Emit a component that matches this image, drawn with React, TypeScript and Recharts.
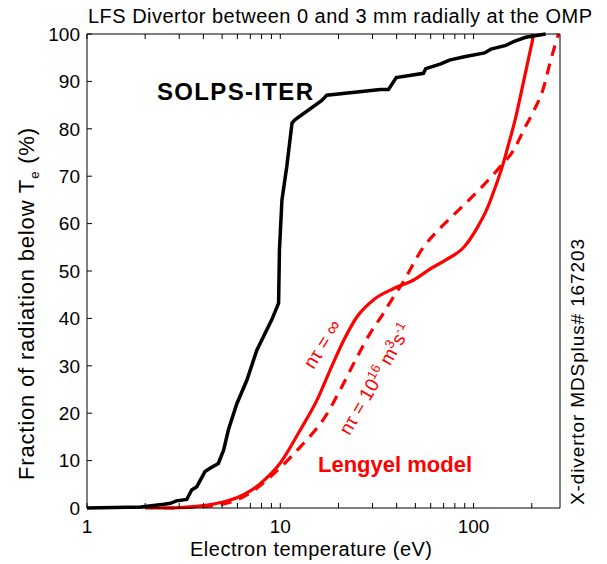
import React from "react";
import { LineChart, Line, XAxis, YAxis } from "recharts";

// SOLPS-ITER cumulative radiation fraction vs Te
const solpsTe = [1, 1.9, 2.5, 2.7, 2.9, 3.28, 3.48, 3.7, 4.08, 4.33, 4.78, 5.09, 5.39, 5.96, 6.72, 7.56, 9.03, 9.8, 9.9, 10.2, 10.8, 11.5, 11.9, 16.4, 17.4, 33, 36.3, 39.8, 55, 56.6, 67.7, 75, 89.6, 114, 123, 147, 161, 186, 236];
const solpsFrac = [0, 0.2, 0.8, 1, 1.5, 1.8, 3.8, 4.5, 7.7, 8.4, 9.4, 12.2, 16.5, 22, 27, 33.3, 39.7, 43.2, 54.4, 65, 72, 81.2, 81.9, 86, 87.1, 88.3, 88.3, 90.8, 91.7, 92.7, 93.7, 94.5, 95.2, 96, 96.8, 97.6, 98.4, 99.3, 100];

// Lengyel model, n*tau = infinity
const lengInfTe = [2, 3, 4, 5, 6, 7, 7.9, 10, 12.7, 15.5, 18.1, 21.3, 25, 30.3, 38.6, 49, 60, 73, 89, 104, 118, 129, 140, 150, 165, 183, 205];
const lengInfFrac = [0, 0.1, 0.5, 1.2, 2.2, 3.6, 5.2, 9.5, 16.5, 22.8, 29.1, 35.4, 40.4, 43.9, 46.3, 48.1, 50.5, 52.5, 55, 59, 63.3, 67.5, 71.7, 76, 82.3, 90.7, 100];

// Lengyel model, n*tau = 1e16 m^-3 s
const lengTauTe = [2.5, 4, 5.5, 7, 8.5, 10, 12.7, 17.1, 20.4, 25, 29.2, 34.2, 38.6, 41.8, 55, 67, 86, 109, 140, 160, 183, 205, 230, 250, 275];
const lengTauFrac = [0, 0.3, 1.2, 3.2, 5.9, 8.5, 12.9, 19.3, 24.9, 31.9, 36.9, 41.1, 44.6, 46.7, 55, 59, 63.3, 67.5, 72.4, 75.3, 80, 83.8, 88.6, 94.3, 100];

const xTicks = [1, 2, 3, 4, 5, 6, 7, 8, 9, 10, 20, 30, 40, 50, 60, 70, 80, 90, 100, 200];
const xLabeled = [1, 10, 100];
const yTicks = [0, 10, 20, 30, 40, 50, 60, 70, 80, 90, 100];

const toPoints = (xs: number[], ys: number[]) => xs.map((t, i) => ({ t, v: ys[i] }));

const FONT = "'Liberation Sans', Arial, sans-serif";
const TICK_LEN = 5;

const BottomTick = (props: any) => {
  const { x, y, payload } = props;
  const lab = xLabeled.includes(payload.value);
  return (
    <g>
      <line x1={x} x2={x} y1={y} y2={y - TICK_LEN} stroke="#000" strokeWidth={1} />
      {lab && (
        <text x={x} y={y + 25} textAnchor="middle" fontSize={19} fontFamily={FONT} fill="#000">
          {payload.value}
        </text>
      )}
    </g>
  );
};

const TopTick = (props: any) => {
  const { x, y } = props;
  return <line x1={x} x2={x} y1={y} y2={y + TICK_LEN} stroke="#000" strokeWidth={1} />;
};

const LeftTick = (props: any) => {
  const { x, y, payload } = props;
  return (
    <g>
      <line x1={x} x2={x + TICK_LEN} y1={y} y2={y} stroke="#000" strokeWidth={1} />
      <text x={x - 7} y={y} dy="0.36em" textAnchor="end" fontSize={19} fontFamily={FONT} fill="#000">
        {payload.value}
      </text>
    </g>
  );
};

const RightTick = (props: any) => {
  const { x, y } = props;
  return <line x1={x} x2={x - TICK_LEN} y1={y} y2={y} stroke="#000" strokeWidth={1} />;
};

const W = 599;
const H = 548;

export default function App() {
  return (
    <div style={{ position: "relative", width: W, height: 556, fontFamily: FONT }}>
      <LineChart width={W} height={H} margin={{ top: 16, right: 27, bottom: 18, left: 39 }}>
        <XAxis
          dataKey="t"
          type="number"
          scale="log"
          domain={[1, 280]}
          allowDataOverflow
          ticks={xTicks}
          interval={0}
          height={30}
          tickSize={0}
          tickMargin={0}
          tickLine={false}
          tick={<BottomTick />}
          axisLine={{ stroke: "#000", strokeWidth: 1 }}
        />
        <XAxis
          xAxisId="top"
          orientation="top"
          dataKey="t"
          type="number"
          scale="log"
          domain={[1, 280]}
          allowDataOverflow
          ticks={xTicks}
          interval={0}
          height={10}
          tickSize={0}
          tickMargin={0}
          tickLine={false}
          tick={<TopTick />}
          axisLine={{ stroke: "#000", strokeWidth: 1 }}
        />
        <YAxis
          type="number"
          domain={[0, 100]}
          ticks={yTicks}
          interval={0}
          width={40}
          tickSize={0}
          tickMargin={0}
          tickLine={false}
          tick={<LeftTick />}
          axisLine={{ stroke: "#000", strokeWidth: 1 }}
        />
        <YAxis
          yAxisId="right"
          orientation="right"
          type="number"
          domain={[0, 100]}
          ticks={yTicks}
          interval={0}
          width={20}
          tickSize={0}
          tickMargin={0}
          tickLine={false}
          tick={<RightTick />}
          axisLine={{ stroke: "#000", strokeWidth: 1 }}
        />
        <Line
          data={toPoints(lengTauTe, lengTauFrac)}
          dataKey="v"
          type="monotone"
          stroke="#ff0000"
          strokeWidth={3.2}
          strokeDasharray="11 8"
          dot={false}
          isAnimationActive={false}
        />
        <Line
          data={toPoints(lengInfTe, lengInfFrac)}
          dataKey="v"
          type="monotone"
          stroke="#ff0000"
          strokeWidth={3.2}
          dot={false}
          isAnimationActive={false}
        />
        <Line
          data={toPoints(solpsTe, solpsFrac)}
          dataKey="v"
          type="linear"
          stroke="#000"
          strokeWidth={3.5}
          dot={false}
          isAnimationActive={false}
        />
      </LineChart>
      <svg
        width={W}
        height={556}
        style={{ position: "absolute", left: 0, top: 0, pointerEvents: "none", overflow: "visible" }}
        fontFamily={FONT}
      >
        <text x={80} y={15} fontSize={20} textLength={504} lengthAdjust="spacing" fill="#000">
          LFS Divertor between 0 and 3 mm radially at the OMP
        </text>
        <text x={182} y={548} fontSize={20} textLength={242} lengthAdjust="spacing" fill="#000">
          Electron temperature (eV)
        </text>
        <text transform="translate(26,472) rotate(-90)" fontSize={22} textLength={352} lengthAdjust="spacing" fill="#000">
          Fraction of radiation below T<tspan fontSize={13} dy={5}>e</tspan>
          <tspan dy={-5}> (%)</tspan>
        </text>
        <text transform="translate(576,497) rotate(-90)" fontSize={19} textLength={266} lengthAdjust="spacing" fill="#000">
          X-divertor MDSplus# 167203
        </text>
        <text x={149} y={92} fontSize={24} fontWeight="bold" textLength={156} lengthAdjust="spacing" fill="#000">
          SOLPS-ITER
        </text>
        <text x={310} y={464} fontSize={22} fontWeight="bold" fill="#ff0000">
          Lengyel model
        </text>
        <text transform="translate(314,336) rotate(-58)" textAnchor="middle" dy="0.35em" fontSize={19} fill="#ff0000">
          nτ = ∞
        </text>
        <text transform="translate(367,371) rotate(-60)" textAnchor="middle" dy="0.35em" fontSize={19} fill="#ff0000">
          nτ = 10<tspan fontSize={13} dy={-7}>16</tspan>
          <tspan dy={7}> m</tspan>
          <tspan fontSize={13} dy={-7}>3</tspan>
          <tspan dy={7}>s</tspan>
          <tspan fontSize={13} dy={-7}>-1</tspan>
        </text>
      </svg>
    </div>
  );
}
